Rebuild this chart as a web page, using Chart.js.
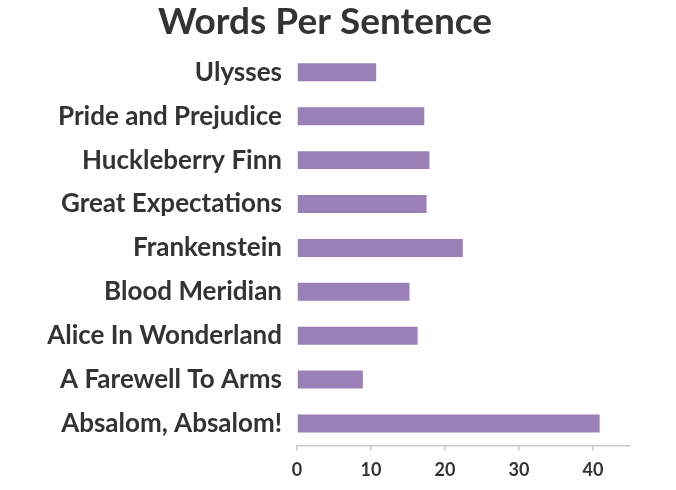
<!DOCTYPE html>
<html>
<head>
<meta charset="utf-8">
<script src="https://cdn.jsdelivr.net/npm/chart.js@4/dist/chart.umd.min.js"></script>
<style>
  html, body { margin: 0; padding: 0; background: #fff; }
  #wrap { width: 676px; height: 490px; }
</style>
</head>
<body>
<div id="wrap"><canvas id="barChart"></canvas></div>
<script>
// book titles, top to bottom as in the picture
var books = ['Ulysses', 'Pride and Prejudice', 'Huckleberry Finn', 'Great Expectations',
  'Frankenstein', 'Blood Meridian', 'Alice In Wonderland', 'A Farewell To Arms', 'Absalom, Absalom!'];
// average words per sentence
var wordsPerSentence = [10.7, 17.2, 17.9, 17.5, 22.4, 15.2, 16.3, 8.9, 40.9];
var axisMin = 0;
var axisMax = 45;
var axisStep = 10;

var textColor = '#333333';
var barColor = '#9a80b7';
var fontFamily = 'Lato, "Open Sans", sans-serif';

var ctx = document.getElementById('barChart').getContext('2d');
var barChart = new Chart(ctx, {
    type: 'bar',
    data: {
        labels: books,
        datasets: [{
            data: wordsPerSentence,
            backgroundColor: barColor,
            borderWidth: 0,
            barPercentage: 0.41,
            categoryPercentage: 1
        }]
    },
    options: {
        indexAxis: 'y',
        responsive: true,
        maintainAspectRatio: false,
        animation: false,
        layout: { padding: { left: 20, right: 46, top: 0, bottom: 0 } },
        plugins: {
            legend: { display: false },
            tooltip: { enabled: false },
            title: {
                display: true,
                text: 'Words Per Sentence',
                color: textColor,
                font: { family: fontFamily, size: 37, weight: 'bold' },
                padding: { top: 0, bottom: 6 }
            }
        },
        scales: {
            x: {
                min: axisMin,
                max: axisMax,
                grid: { drawOnChartArea: false, drawTicks: true, tickLength: 5, color: '#c8c8c8', lineWidth: 1.5 },
                border: { display: true, color: '#c8c8c8', width: 1.5 },
                ticks: {
                    stepSize: axisStep,
                    includeBounds: false,
                    color: textColor,
                    padding: 9,
                    maxRotation: 0,
                    font: { family: fontFamily, size: 18, weight: 'bold' }
                }
            },
            y: {
                grid: { display: false },
                border: { display: false },
                ticks: {
                    color: textColor,
                    padding: 7,
                    font: { family: fontFamily, size: 26, weight: 'bold' }
                },
                afterFit: function (scale) { scale.width = 277; }
            }
        }
    }
});
</script>
</body>
</html>
